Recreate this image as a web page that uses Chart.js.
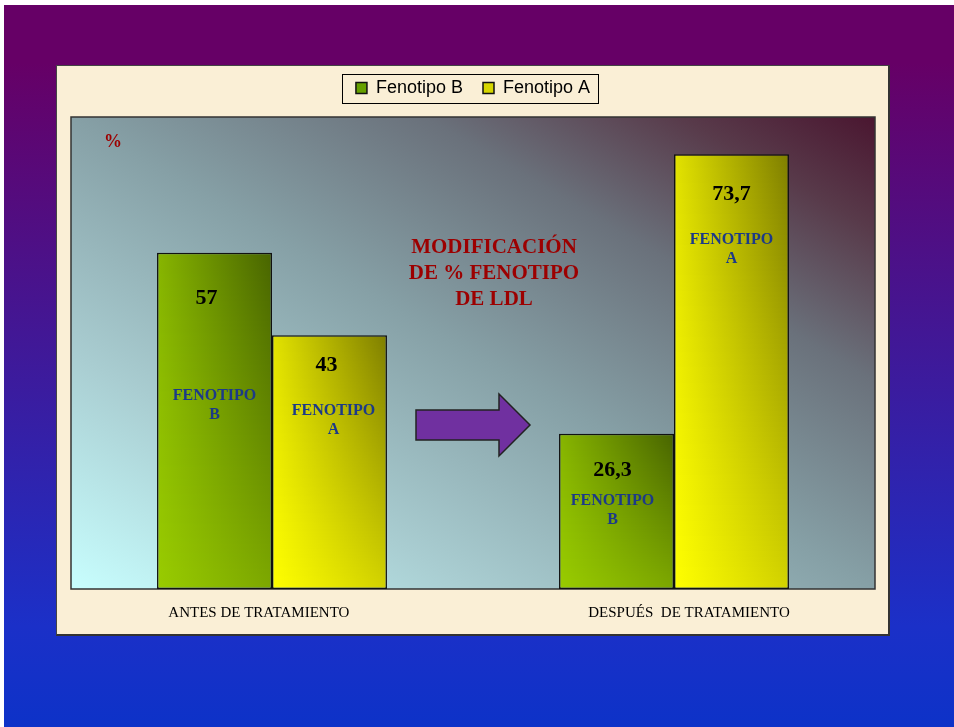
<!DOCTYPE html>
<html lang="es">
<head>
<meta charset="utf-8">
<title>Modificación de % fenotipo de LDL</title>
<script src="https://cdn.jsdelivr.net/npm/chart.js@4.4.1/dist/chart.umd.min.js"></script>
<style>
    html, body { margin: 0; width: 954px; height: 727px; background: #fff; overflow: hidden; }
    .slide {
        position: absolute; left: 4px; top: 5px; right: 0; bottom: 0;
        background: linear-gradient(to bottom, #660066 0%, #660066 8%, #1b30c8 86%, #0d32c8 100%);
    }
    .panel {
        position: absolute; left: 56px; top: 65px; width: 831px; height: 568px;
        background: #faefd6;
        border-style: solid; border-color: #444 #333 #333 #444; border-width: 1px 2px 2px 1px;
    }
    canvas { display: block; position: absolute; left: 0; top: 0; }
</style>
</head>
<body>
<div class="slide"></div>
<div class="panel"><canvas class="ldl-chart" width="831" height="571"></canvas></div>
<script>
const categories = ["ANTES DE TRATAMIENTO", "DESPUÉS  DE TRATAMIENTO"];
const seriesNames = ["Fenotipo B", "Fenotipo A"];
const fenotipoB = [57, 26.3];
const fenotipoA = [43, 73.7];
const seriesTags = ["B", "A"];

// value / tag placement inside each bar: [dx, dy] measured from the bar top
const labelOffsets = [
    [{ value: [-8, 46], tag: [0, 143] }, { value: [-4, 36], tag: [-4, 67] }],
    [{ value: [-3, 30], tag: [4, 76] }, { value: [0, 40], tag: [0, 86] }],
];

const serif = "'Liberation Serif', 'Times New Roman', serif";
const greenLight = [153, 204, 0], greenDark = [72, 100, 0];
const yellowLight = [255, 255, 0], yellowDark = [126, 126, 0];
const legendSwatches = ["#66a000", "#d6d600"];

const mix = (a, b, t) => a.map((c, i) => Math.round(c + (b[i] - c) * t));
const rgb = (c) => `rgb(${c[0]},${c[1]},${c[2]})`;

// light lower-left corner, dark upper-right corner, blended across the bar
const barFill = (light, dark) => (context) => {
    const el = context.chart.getDatasetMeta(context.datasetIndex).data[context.dataIndex];
    if (!el || !isFinite(el.x) || !isFinite(el.base)) return rgb(light);
    const w = Math.max(1, Math.round(el.width));
    const h = Math.max(1, Math.round(el.base - el.y));
    const off = document.createElement("canvas");
    off.width = w;
    off.height = h;
    const g = off.getContext("2d");
    for (let r = 0; r < h; r++) {
        const v = 1 - r / h;
        const row = g.createLinearGradient(0, 0, w, 0);
        row.addColorStop(0, rgb(mix(light, dark, 0.22 * v)));
        row.addColorStop(1, rgb(mix(light, dark, 0.35 + 0.65 * v)));
        g.fillStyle = row;
        g.fillRect(0, r, w, 1);
    }
    const pattern = context.chart.ctx.createPattern(off, "no-repeat");
    pattern.setTransform(new DOMMatrix([1, 0, 0, 1, el.x - el.width / 2, el.y]));
    return pattern;
};

const slideDecor = {
    id: "slideDecor",
    afterLayout(chart) {
        // pull the legend row up a bit from the plot
        chart.legend.top -= 10;
    },
    beforeDraw(chart) {
        const { ctx, chartArea: a, legend } = chart;
        const w = a.right - a.left, h = a.bottom - a.top;

        // plot background
        const gx = 0.5 / w, gy = -0.5 / h, n = gx * gx + gy * gy;
        const bg = ctx.createLinearGradient(a.left, a.bottom, a.left + gx / n, a.bottom + gy / n);
        bg.addColorStop(0, "#c8fefe");
        bg.addColorStop(0.25, "#a9cdd1");
        bg.addColorStop(0.5, "#86a0a6");
        bg.addColorStop(0.72, "#6a717b");
        bg.addColorStop(0.88, "#583a4a");
        bg.addColorStop(1, "#4a1630");
        ctx.save();
        ctx.fillStyle = bg;
        ctx.fillRect(a.left, a.top, w, h);
        ctx.lineWidth = 1.5;
        ctx.strokeStyle = "#333";
        ctx.strokeRect(a.left, a.top, w, h);

        // legend frame
        const boxes = legend.legendHitBoxes;
        const left = Math.min(...boxes.map((b) => b.left)) - 14;
        const right = Math.max(...boxes.map((b) => b.left + b.width)) + 8;
        const cy = legend.top + legend.options.labels.padding + 9;
        ctx.lineWidth = 1;
        ctx.strokeStyle = "#000";
        ctx.strokeRect(Math.round(left) + 0.5, Math.round(cy - 14.5) + 0.5, Math.round(right - left), 29);
        ctx.restore();
    },
    afterDatasetsDraw(chart) {
        const { ctx, chartArea: a, scales } = chart;
        ctx.save();
        ctx.textAlign = "center";
        ctx.textBaseline = "middle";

        // values and tags on each bar
        chart.data.datasets.forEach((ds, di) => {
            chart.getDatasetMeta(di).data.forEach((bar, i) => {
                const off = labelOffsets[di][i];
                ctx.fillStyle = "#000";
                ctx.font = `bold 22px ${serif}`;
                ctx.fillText(String(ds.data[i]).replace(".", ","), bar.x + off.value[0], bar.y + off.value[1]);
                ctx.fillStyle = "#1c3a88";
                ctx.font = `bold 16px ${serif}`;
                ctx.fillText("FENOTIPO", bar.x + off.tag[0], bar.y + off.tag[1]);
                ctx.fillText(seriesTags[di], bar.x + off.tag[0], bar.y + off.tag[1] + 19);
            });
        });

        // caption in the middle of the plot
        const mid = (scales.x.getPixelForValue(0) + scales.x.getPixelForValue(1)) / 2;
        ctx.fillStyle = "#9c0000";
        ctx.font = `bold 21px ${serif}`;
        ["MODIFICACIÓN", "DE % FENOTIPO", "DE LDL"].forEach((line, k) => {
            ctx.fillText(line, mid + 21, a.top + 131 + k * 26);
        });
        ctx.font = `bold 18px ${serif}`;
        ctx.fillText("%", a.left + 42, a.top + 25);

        // arrow between the two groups
        const cy = a.top + 308;
        ctx.beginPath();
        ctx.moveTo(mid - 57, cy - 15);
        ctx.lineTo(mid + 26, cy - 15);
        ctx.lineTo(mid + 26, cy - 31);
        ctx.lineTo(mid + 57, cy);
        ctx.lineTo(mid + 26, cy + 31);
        ctx.lineTo(mid + 26, cy + 15);
        ctx.lineTo(mid - 57, cy + 15);
        ctx.closePath();
        ctx.fillStyle = "#7030a0";
        ctx.fill();
        ctx.lineWidth = 1.5;
        ctx.strokeStyle = "#222";
        ctx.stroke();
        ctx.restore();
    },
};

const chart = new Chart(document.querySelector(".ldl-chart").getContext("2d"), {
    type: "bar",
    data: {
        labels: categories,
        datasets: [
            {
                label: seriesNames[0],
                data: fenotipoB,
                backgroundColor: barFill(greenLight, greenDark),
                borderColor: "#111",
                borderWidth: 1.5,
                borderSkipped: false,
                categoryPercentage: 0.572,
                barPercentage: 1,
            },
            {
                label: seriesNames[1],
                data: fenotipoA,
                backgroundColor: barFill(yellowLight, yellowDark),
                borderColor: "#111",
                borderWidth: 1.5,
                borderSkipped: false,
                categoryPercentage: 0.572,
                barPercentage: 1,
            },
        ],
    },
    options: {
        responsive: false,
        animation: false,
        events: [],
        layout: {
            padding: { left: 14, right: 13, top: 3, bottom: 0 },
        },
        scales: {
            x: {
                grid: { display: false, drawTicks: false },
                border: { display: false },
                ticks: {
                    color: "#000",
                    padding: 15,
                    maxRotation: 0,
                    // first label sits a little left of its group, the second a little right
                    callback: (value, i) =>
                        i === 0 ? categories[i] + "       " : "        " + categories[i],
                    font: { family: serif, size: 15 },
                },
            },
            y: {
                display: false,
                min: 0,
                max: 80,
            },
        },
        plugins: {
            legend: {
                position: "top",
                labels: {
                    color: "#000",
                    boxWidth: 11,
                    boxHeight: 11,
                    padding: 20,
                    font: { family: "'Liberation Sans', Arial, sans-serif", size: 18 },
                    generateLabels: (c) =>
                        Chart.defaults.plugins.legend.labels.generateLabels(c).map((item, i) => ({
                            ...item,
                            fillStyle: legendSwatches[i],
                            strokeStyle: "#111",
                            lineWidth: 1.5,
                        })),
                },
            },
            tooltip: { enabled: false },
        },
    },
    plugins: [slideDecor],
});

// second pass so the bar fills can use the laid-out bar geometry
chart.update("none");
</script>
</body>
</html>
